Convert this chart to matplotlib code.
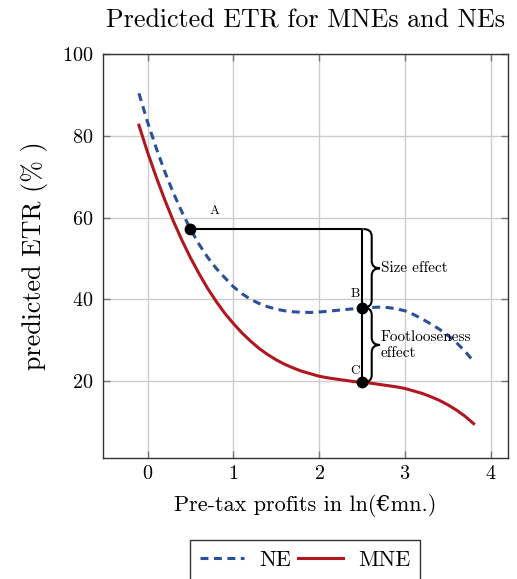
import matplotlib
matplotlib.use('Agg')
import matplotlib.pyplot as plt
from matplotlib.path import Path
from matplotlib.patches import PathPatch
from matplotlib.lines import Line2D

# Computer Modern look, DejaVu Serif for missing glyphs (euro sign)
plt.rcParams['font.family'] = ['cmr10', 'DejaVu Serif']
plt.rcParams['axes.formatter.use_mathtext'] = True
plt.rcParams['mathtext.fontset'] = 'cm'

# --- Data ---
x_vals = [-0.1, 0.0, 0.1, 0.2, 0.3, 0.4, 0.5, 0.6, 0.7, 0.8, 0.9,
          1.0, 1.1, 1.2, 1.3, 1.4, 1.5, 1.6, 1.7, 1.8, 1.9,
          2.0, 2.1, 2.2, 2.3, 2.4, 2.5, 2.6, 2.7, 2.8, 2.9,
          3.0, 3.1, 3.2, 3.3, 3.4, 3.5, 3.6, 3.7, 3.8]

ne_etr = [90.4, 83.4, 77.1, 71.3, 66.1, 61.4, 57.2, 53.5, 50.3, 47.6, 45.3,
          43.1, 41.4, 40.0, 39.0, 38.2, 37.6, 37.2, 36.95, 36.85, 36.8,
          36.9, 37.1, 37.3, 37.5, 37.7, 37.9, 38.0, 38.1, 38.0, 37.7,
          37.2, 36.3, 35.2, 34.0, 32.7, 31.2, 29.4, 27.3, 24.8]

mne_etr = [82.6, 76.0, 70.0, 64.4, 59.2, 54.5, 50.2, 46.3, 42.7, 39.5, 36.6,
           34.1, 31.8, 29.8, 28.0, 26.5, 25.2, 24.1, 23.2, 22.4, 21.8,
           21.2, 20.8, 20.5, 20.2, 19.9, 19.7, 19.5, 19.2, 18.9, 18.6,
           18.2, 17.6, 17.0, 16.2, 15.3, 14.2, 12.9, 11.4, 9.6]

point_names = ['A', 'B', 'C']
point_x = [0.5, 2.5, 2.5]
point_y = [57.2, 38.0, 19.7]

x_ticks = [0, 1, 2, 3, 4]
y_ticks = [20, 40, 60, 80, 100]

ne_color = '#2a4f9c'
mne_color = '#b0171f'

fig = plt.figure(figsize=(5.17, 5.79), dpi=100)
ax = fig.add_axes([0.199, 0.209, 0.7836, 0.6976])

ax.plot(x_vals, ne_etr, color=ne_color, lw=2.2, dashes=(2.6, 1.8), label='NE')
ax.plot(x_vals, mne_etr, color=mne_color, lw=2.2, label='MNE')

# connector A -> corner -> C
ax.plot([point_x[0], point_x[1], point_x[2]],
        [point_y[0], point_y[0], point_y[2]], color='black', lw=1.5, zorder=4)
ax.plot(point_x, point_y, 'o', color='black', ms=7.5, zorder=5)

label_off = [(0.28, 4.5), (-0.08, 3.3), (-0.08, 2.9)]
for name, px, py, (dx, dy) in zip(point_names, point_x, point_y, label_off):
    ax.text(px + dx, py + dy, name, fontsize=9.5, ha='center', va='center')


def brace(x0, y_top, y_bot, half=0.097, r=1.8):
    ym = (y_top + y_bot) / 2
    verts = [(x0, y_top),
             (x0 + half, y_top), (x0 + half, y_top - r),
             (x0 + half, ym + r),
             (x0 + half, ym), (x0 + 2 * half, ym),
             (x0 + half, ym), (x0 + half, ym - r),
             (x0 + half, y_bot + r),
             (x0 + half, y_bot), (x0, y_bot)]
    codes = [Path.MOVETO,
             Path.CURVE3, Path.CURVE3,
             Path.LINETO,
             Path.CURVE3, Path.CURVE3,
             Path.CURVE3, Path.CURVE3,
             Path.LINETO,
             Path.CURVE3, Path.CURVE3]
    ax.add_patch(PathPatch(Path(verts, codes), fill=False, lw=1.5,
                           edgecolor='black', zorder=4))


brace(2.515, point_y[0], point_y[1])
brace(2.515, point_y[1], point_y[2])
ax.text(2.72, (point_y[0] + point_y[1]) / 2, 'Size effect', fontsize=11,
        ha='left', va='center')
ax.text(2.72, (point_y[1] + point_y[2]) / 2, 'Footlooseness\neffect', fontsize=11,
        ha='left', va='center', linespacing=1.2)

ax.set_xlim(-0.52, 4.2)
ax.set_ylim(1.2, 100)
ax.set_xticks(x_ticks)
ax.set_yticks(y_ticks)
ax.grid(True, color='#cccccc', lw=1)
ax.set_axisbelow(True)
ax.tick_params(direction='in', top=True, right=True, length=5, width=1,
               color='#777777', labelsize=14.5, pad=7)
ax.tick_params(axis='x', pad=5)
for s in ax.spines.values():
    s.set_linewidth(1)
    s.set_color('#333333')

ax.set_title('Predicted ETR for MNEs and NEs', fontsize=18.7, pad=19)
ax.set_xlabel('Pre-tax profits in ln(€mn.)', fontsize=16, labelpad=8)
ax.set_ylabel('predicted ETR (% )', fontsize=18.7, labelpad=10)

handles = [Line2D([], [], color=ne_color, lw=2.2, dashes=(2.6, 1.8)),
           Line2D([], [], color=mne_color, lw=2.2)]
leg = fig.legend(handles, ['NE', 'MNE'], loc='upper center', ncol=2,
                 bbox_to_anchor=(305 / 517, 1 - 540 / 579), fontsize=16,
                 frameon=True, fancybox=False, edgecolor='black',
                 handlelength=2.0, handletextpad=0.7, columnspacing=0.3,
                 borderpad=0.45, borderaxespad=0)
leg.get_frame().set_linewidth(1)

fig.savefig('out.png', dpi=100)
